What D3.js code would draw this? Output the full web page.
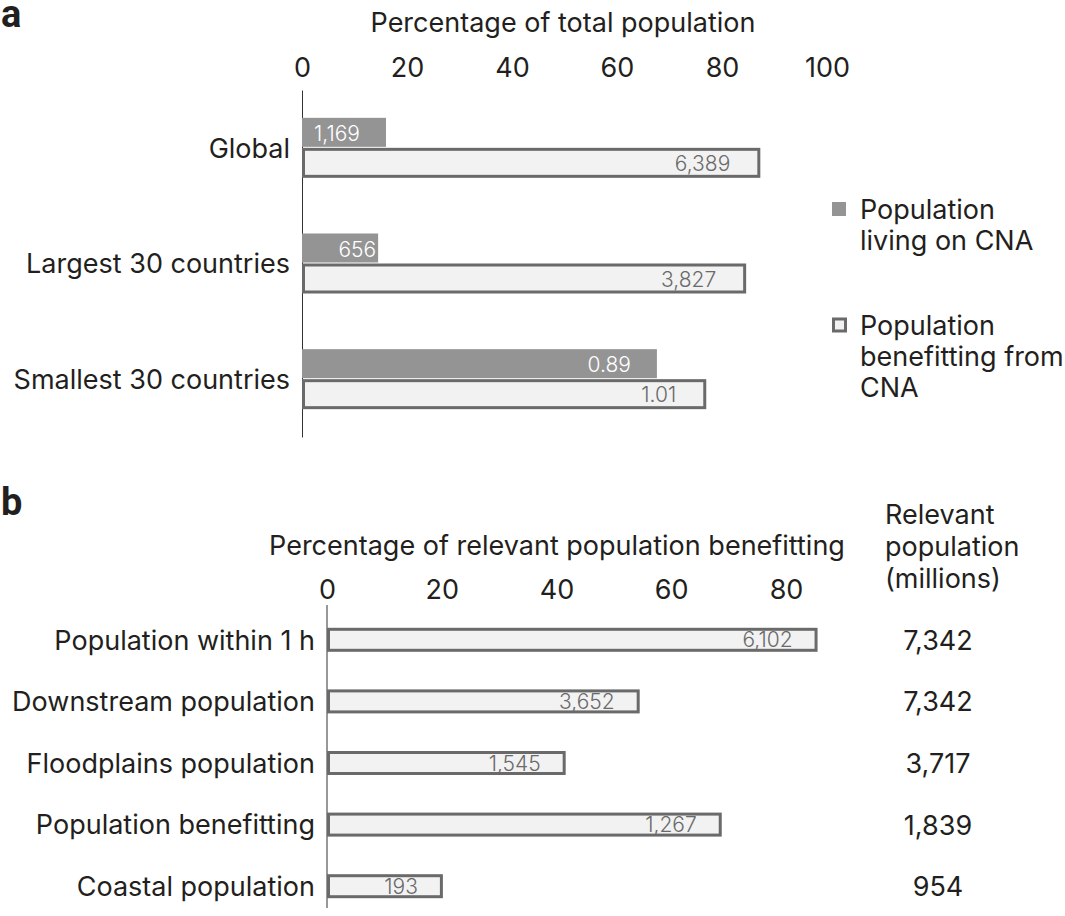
<!DOCTYPE html>
<html><head><meta charset="utf-8">
<script src="https://cdn.jsdelivr.net/npm/d3@7"></script>
<style>
html,body{margin:0;padding:0;background:#fff;}
svg{display:block;font-family:Inter,"Noto Sans",sans-serif;}
</style></head>
<body>
<script>
// ---- Panel a data ----
const catsA = ["Global", "Largest 30 countries", "Smallest 30 countries"];
const livingPct = [16.0, 14.5, 67.6];
const benefitPct = [87.3, 84.6, 77.0];
const livingLabels = ["1,169", "656", "0.89"];
const benefitLabels = ["6,389", "3,827", "1.01"];
const ticksA = [0, 20, 40, 60, 80, 100];
const legendA = [["Population", "living on CNA"], ["Population", "benefitting from", "CNA"]];

// ---- Panel b data ----
const catsB = ["Population within 1 h", "Downstream population", "Floodplains population", "Population benefitting", "Coastal population"];
const pctB = [85.5, 54.5, 41.6, 68.8, 20.2];
const labelsB = ["6,102", "3,652", "1,545", "1,267", "193"];
const relevantB = ["7,342", "7,342", "3,717", "1,839", "954"];
const ticksB = [0, 20, 40, 60, 80];

const W = 1065, H = 916;
const dark = "#949495", lightFill = "#f2f2f2", stroke = "#6a6a6a", txt = "#231f20";
const FS = 27, VFS = 21;

const svg = d3.select("body").append("svg").attr("width", W).attr("height", H);

// ===== Panel a =====
svg.append("text").attr("x", 1).attr("y", 27).attr("font-size", 38).attr("font-weight", 700)
  .attr("font-family", "Roboto, sans-serif").attr("fill", txt).text("a");

const xA = d3.scaleLinear().domain([0, 100]).range([302, 827]);
const yA = d3.scaleBand().domain(catsA).range([90, 437]);

svg.append("text").attr("x", 563).attr("y", 32).attr("text-anchor", "middle")
  .attr("font-size", FS).attr("fill", txt).text("Percentage of total population");

const gxA = svg.append("g").attr("transform", "translate(0,77)")
  .call(d3.axisTop(xA).tickValues(ticksA).tickSize(0).tickPadding(0));
gxA.select(".domain").remove();
gxA.selectAll("text").attr("font-size", FS).attr("fill", txt).attr("font-family", "Inter, sans-serif");

const gyA = svg.append("g").attr("transform", "translate(302,0)")
  .call(d3.axisLeft(yA).tickSize(0).tickPadding(12));
gyA.select(".domain").attr("stroke", "#333").attr("stroke-width", 1);
gyA.selectAll("text").attr("font-size", FS).attr("fill", txt).attr("font-family", "Inter, sans-serif").attr("dy", "0.36em");

const bh = 30;
catsA.forEach((c, i) => {
  const cy = yA(c) + yA.bandwidth() / 2;
  svg.append("rect").attr("x", xA(0)).attr("y", cy - bh).attr("width", xA(livingPct[i]) - xA(0)).attr("height", bh - 1)
    .attr("fill", dark);
  svg.append("rect").attr("x", xA(0) + 1.5).attr("y", cy + 1.5).attr("width", xA(benefitPct[i]) - xA(0) - 3).attr("height", bh - 3)
    .attr("fill", lightFill).attr("stroke", stroke).attr("stroke-width", 3);
  const livEnd = xA(livingPct[i]);
  const pad = (livEnd - xA(0)) < 80 ? 2 : 26;
  svg.append("text").attr("x", livEnd - pad).attr("y", cy - bh / 2 + 8).attr("text-anchor", "end")
    .attr("font-size", VFS).attr("font-weight", 300).attr("fill", "#fff").text(livingLabels[i]);
  svg.append("text").attr("x", xA(benefitPct[i]) - 30).attr("y", cy + bh / 2 + 8).attr("text-anchor", "end")
    .attr("font-size", VFS).attr("font-weight", 300).attr("fill", "#6a6a6a").text(benefitLabels[i]);
});

// legend
const legY = [209, 325];
legendA.forEach((lines, i) => {
  if (i === 0) {
    svg.append("rect").attr("x", 832).attr("y", legY[i] - 7).attr("width", 14).attr("height", 14).attr("fill", dark);
  } else {
    svg.append("rect").attr("x", 833.5).attr("y", legY[i] - 6).attr("width", 12).attr("height", 12)
      .attr("fill", lightFill).attr("stroke", stroke).attr("stroke-width", 3);
  }
  lines.forEach((l, j) => {
    svg.append("text").attr("x", 860).attr("y", legY[i] + 9.5 + j * 31).attr("font-size", FS).attr("fill", txt).text(l);
  });
});

// ===== Panel b =====
svg.append("text").attr("x", 1).attr("y", 515).attr("font-size", 38).attr("font-weight", 700)
  .attr("font-family", "Roboto, sans-serif").attr("fill", txt).text("b");

const xB = d3.scaleLinear().domain([0, 80]).range([327, 786]);
const yB = d3.scaleBand().domain(catsB).range([609, 917]);

svg.append("text").attr("x", 557).attr("y", 555).attr("text-anchor", "middle")
  .attr("font-size", FS).attr("fill", txt).text("Percentage of relevant population benefitting");

const gxB = svg.append("g").attr("transform", "translate(0,599)")
  .call(d3.axisTop(xB).tickValues(ticksB).tickSize(0).tickPadding(0));
gxB.select(".domain").remove();
gxB.selectAll("text").attr("font-size", FS).attr("fill", txt).attr("font-family", "Inter, sans-serif");

const gyB = svg.append("g").attr("transform", "translate(327,0)")
  .call(d3.axisLeft(yB).tickSize(0).tickPadding(12));
gyB.select(".domain").remove();
gyB.selectAll("text").attr("font-size", FS).attr("fill", txt).attr("font-family", "Inter, sans-serif").attr("dy", "0.36em");
svg.append("line").attr("x1", 327).attr("x2", 327).attr("y1", 605).attr("y2", 908).attr("stroke", "#333").attr("stroke-width", 1);

const bhB = 24;
catsB.forEach((c, i) => {
  const cy = yB(c) + yB.bandwidth() / 2;
  svg.append("rect").attr("x", xB(0) + 1.5).attr("y", cy - bhB / 2 + 1.5).attr("width", xB(pctB[i]) - xB(0) - 3).attr("height", bhB - 3)
    .attr("fill", lightFill).attr("stroke", stroke).attr("stroke-width", 3);
  svg.append("text").attr("x", xB(pctB[i]) - 25).attr("y", cy + 7.5).attr("text-anchor", "end")
    .attr("font-size", VFS).attr("font-weight", 300).attr("fill", "#6a6a6a").text(labelsB[i]);
  svg.append("text").attr("x", 938).attr("y", cy + 10).attr("text-anchor", "middle")
    .attr("font-size", FS).attr("fill", txt).text(relevantB[i]);
});

["Relevant", "population", "(millions)"].forEach((l, j) => {
  svg.append("text").attr("x", 885).attr("y", 524 + j * 32).attr("font-size", FS).attr("fill", txt).text(l);
});
</script>
</body></html>
